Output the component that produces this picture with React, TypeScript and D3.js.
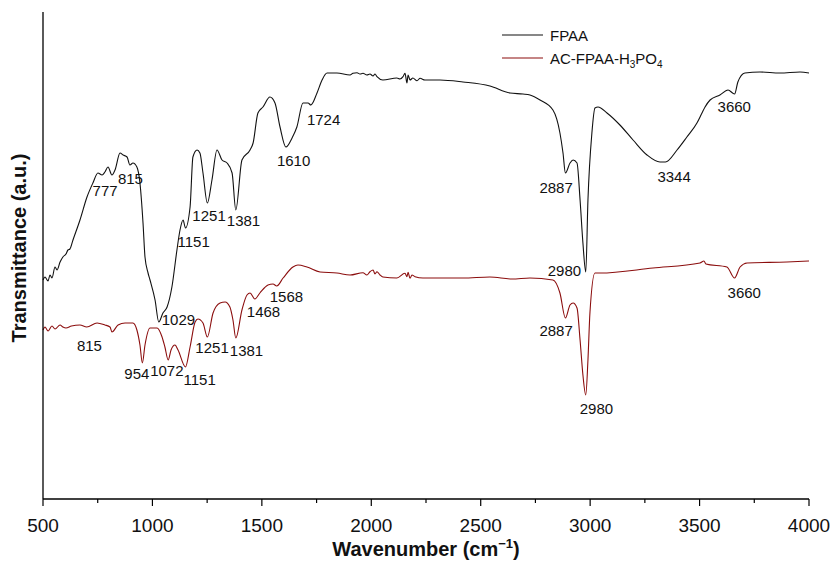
import React, { useEffect, useRef } from "react";
import * as d3 from "d3";

// FTIR spectra, transmittance in arbitrary units
const wnFPAA = [500, 509, 523, 532, 541, 555, 564, 578, 591, 605, 614, 623, 637, 669, 701, 728, 751, 770, 783, 797, 815, 829, 852, 866, 884, 897, 911, 929, 943, 957, 966, 980, 989, 1012, 1029, 1048, 1067, 1089, 1112, 1126, 1140, 1151, 1172, 1185, 1204, 1217, 1231, 1251, 1272, 1295, 1318, 1341, 1364, 1381, 1409, 1446, 1460, 1482, 1505, 1537, 1560, 1583, 1610, 1638, 1660, 1688, 1711, 1724, 1752, 1775, 1798, 1843, 1903, 1916, 1935, 1948, 1962, 1980, 1994, 2008, 2017, 2026, 2053, 2117, 2131, 2145, 2154, 2163, 2168, 2177, 2190, 2209, 2223, 2245, 2314, 2419, 2542, 2634, 2693, 2725, 2771, 2830, 2862, 2876, 2887, 2908, 2922, 2940, 2954, 2967, 2980, 2990, 3008, 3022, 3036, 3077, 3136, 3196, 3260, 3319, 3344, 3397, 3442, 3488, 3511, 3525, 3548, 3593, 3630, 3660, 3675, 3707, 3776, 3867, 3959, 4000];
const tFPAA = [219, 222, 218, 224, 221, 232, 229, 237, 242, 245, 249, 250, 259, 279, 302, 316, 326, 324, 327, 332, 324, 329, 346, 344, 342, 334, 336, 332, 316, 276, 242, 226, 219, 199, 177, 186, 192, 212, 249, 269, 279, 271, 292, 342, 349, 346, 326, 296, 319, 349, 339, 336, 326, 289, 339, 349, 356, 386, 392, 402, 396, 372, 352, 361, 372, 396, 396, 394, 406, 419, 426, 426, 424, 425.7, 426.3, 425, 425.7, 424, 425, 423, 425, 422.3, 419, 421, 420, 422.3, 425.7, 416, 424, 419, 421, 418.3, 420.7, 419, 419, 417, 413, 406, 405, 404, 399, 389, 366, 346, 326, 336, 339, 336, 299, 256, 227, 299, 366, 391, 392, 386, 374, 359, 344, 337, 337, 349, 362, 376, 386, 392, 399, 404, 409, 405, 417, 426, 427, 426, 427, 426];

const wnAC = [500, 509, 523, 541, 555, 578, 591, 605, 630, 669, 700, 747, 783, 806, 815, 843, 875, 911, 929, 943, 954, 966, 989, 1021, 1044, 1057, 1072, 1085, 1103, 1117, 1151, 1172, 1195, 1208, 1231, 1251, 1277, 1309, 1332, 1354, 1368, 1381, 1409, 1432, 1446, 1468, 1491, 1528, 1551, 1568, 1597, 1642, 1665, 1706, 1766, 1843, 1903, 1962, 1980, 1994, 2008, 2017, 2026, 2040, 2053, 2117, 2154, 2163, 2168, 2177, 2186, 2200, 2236, 2419, 2542, 2643, 2725, 2830, 2862, 2887, 2908, 2922, 2940, 2954, 2967, 2980, 2990, 2999, 3022, 3045, 3287, 3502, 3520, 3529, 3625, 3660, 3685, 3717, 3899, 4000];
const tAC = [169, 172, 168, 173, 170, 174, 172, 171, 173, 174, 172, 176, 174, 172, 167, 174, 176, 176, 169, 154, 136, 154, 171, 171, 162, 152, 139, 149, 154, 149, 132, 152, 177, 180, 176, 162, 186, 196, 197, 192, 179, 161, 189, 204, 206, 200, 206, 214, 215, 213, 221, 232, 234, 232, 227, 226, 224, 226.3, 224, 227.3, 229, 225, 227.3, 224, 222, 221, 225.7, 222.3, 226.7, 220.7, 224, 222.3, 221, 221, 222, 220, 221, 219, 206, 181, 194, 196, 191, 159, 124, 104, 139, 186, 226, 226, 231, 236, 238, 235, 232, 221, 232, 236, 237, 238];

const peaksFPAA = [777, 815, 1029, 1151, 1251, 1381, 1610, 1724, 2887, 2980, 3344, 3660];
const peaksAC = [815, 954, 1072, 1151, 1251, 1381, 1468, 1568, 2887, 2980, 3660];

// label offsets (px) from the marked point on the curve
const offFPAA = [[-11, 24], [6, 9], [3, 3], [-8, 19], [-15, 18], [-9, 16], [-9, 19], [-4, 20], [-26, 20], [-38, 4], [-8, 20], [-17, 18]];
const offAC = [[-35, 19], [-18, 16], [-18, 16], [-2, 18], [-12, 16], [-6, 18], [-8, 18], [-7, 16], [-26, 18], [-6, 19], [-7, 20]];

const xTicks = [500, 1000, 1500, 2000, 2500, 3000, 3500, 4000];
const xMinor = [750, 1250, 1750, 2250, 2750, 3250, 3750];

const FONT = "Arial, 'Liberation Sans', sans-serif";

export default function App() {
    const ref = useRef(null);

    useEffect(() => {
        document.body.style.margin = "0";
        const width = 830;
        const height = 561;
        const margin = {top: 12, right: 21, bottom: 62, left: 43};

        const root = d3.select(ref.current);
        root.selectAll("*").remove();

        const svg = root.append("svg")
            .attr("width", width)
            .attr("height", height)
            .style("display", "block")
            .style("background", "#fff");

        const x = d3.scaleLinear().domain([500, 4000]).range([margin.left, width - margin.right]);
        const y = d3.scaleLinear().domain([0, 487]).range([height - margin.bottom, margin.top]);

        const series = [
            {name: "FPAA", wn: wnFPAA, t: tFPAA, color: "#111", peaks: peaksFPAA, off: offFPAA},
            {name: "AC", wn: wnAC, t: tAC, color: "#8b0d0d", peaks: peaksAC, off: offAC},
        ];

        series.forEach(s => {
            const pts = s.wn.map((w, i) => [x(w), y(s.t[i])] as [number, number]);
            svg.append("path")
                .attr("d", d3.line().curve(d3.curveMonotoneX)(pts))
                .attr("fill", "none")
                .attr("stroke", s.color)
                .attr("stroke-width", 1.1);

            // peak labels, placed relative to the nearest data point
            s.peaks.forEach((p, i) => {
                let k = d3.bisectLeft(s.wn, p);
                if (k >= s.wn.length) k = s.wn.length - 1;
                if (k > 0 && Math.abs(s.wn[k - 1] - p) < Math.abs(s.wn[k] - p)) k = k - 1;
                svg.append("text")
                    .attr("x", x(p) + s.off[i][0])
                    .attr("y", y(s.t[k]) + s.off[i][1])
                    .attr("font-family", FONT)
                    .attr("font-size", 15)
                    .attr("fill", "#111")
                    .text(p);
            });
        });

        // x axis + left axis line
        const axisY = y(0);
        svg.append("line")
            .attr("x1", x(500)).attr("x2", x(4000))
            .attr("y1", axisY).attr("y2", axisY)
            .attr("stroke", "#000").attr("stroke-width", 1.3);
        svg.append("line")
            .attr("x1", x(500)).attr("x2", x(500))
            .attr("y1", margin.top).attr("y2", axisY)
            .attr("stroke", "#000").attr("stroke-width", 1.3);

        svg.selectAll("line.major")
            .data(xTicks)
            .join("line")
            .attr("class", "major")
            .attr("x1", d => x(d)).attr("x2", d => x(d))
            .attr("y1", axisY).attr("y2", axisY + 7)
            .attr("stroke", "#000").attr("stroke-width", 1.2);
        svg.selectAll("line.minor")
            .data(xMinor)
            .join("line")
            .attr("class", "minor")
            .attr("x1", d => x(d)).attr("x2", d => x(d))
            .attr("y1", axisY).attr("y2", axisY + 4)
            .attr("stroke", "#000").attr("stroke-width", 1.2);
        svg.selectAll("text.tick")
            .data(xTicks)
            .join("text")
            .attr("class", "tick")
            .attr("x", d => x(d))
            .attr("y", axisY + 33)
            .attr("text-anchor", "middle")
            .attr("font-family", FONT)
            .attr("font-size", 19)
            .attr("fill", "#111")
            .text(d => d);

        // axis titles
        const xt = svg.append("text")
            .attr("x", (x(500) + x(4000)) / 2)
            .attr("y", 556)
            .attr("text-anchor", "middle")
            .attr("font-family", FONT)
            .attr("font-size", 20)
            .attr("font-weight", "bold")
            .attr("fill", "#111");
        xt.append("tspan").text("Wavenumber (cm");
        xt.append("tspan").attr("font-size", 13).attr("dy", -8).text("\u22121");
        xt.append("tspan").attr("dy", 8).text(")");

        svg.append("text")
            .attr("transform", "translate(26,248) rotate(-90)")
            .attr("text-anchor", "middle")
            .attr("font-family", FONT)
            .attr("font-size", 20)
            .attr("font-weight", "bold")
            .attr("fill", "#111")
            .text("Transmittance (a.u.)");

        // legend
        const lg = svg.append("g").attr("transform", "translate(502,35)");
        lg.append("line").attr("x1", 0).attr("x2", 41).attr("y1", 0).attr("y2", 0)
            .attr("stroke", series[0].color).attr("stroke-width", 1.1);
        lg.append("text").attr("x", 48).attr("y", 5.5)
            .attr("font-family", FONT).attr("font-size", 15).attr("fill", "#111")
            .text("FPAA");
        lg.append("line").attr("x1", 0).attr("x2", 41).attr("y1", 23).attr("y2", 23)
            .attr("stroke", series[1].color).attr("stroke-width", 1.1);
        const lt = lg.append("text").attr("x", 48).attr("y", 28.5)
            .attr("font-family", FONT).attr("font-size", 15).attr("fill", "#111");
        lt.append("tspan").text("AC-FPAA-H");
        lt.append("tspan").attr("font-size", 10).attr("dy", 4).text("3");
        lt.append("tspan").attr("dy", -4).text("PO");
        lt.append("tspan").attr("font-size", 10).attr("dy", 4).text("4");
    }, []);

    return <div ref={ref}></div>;
}
